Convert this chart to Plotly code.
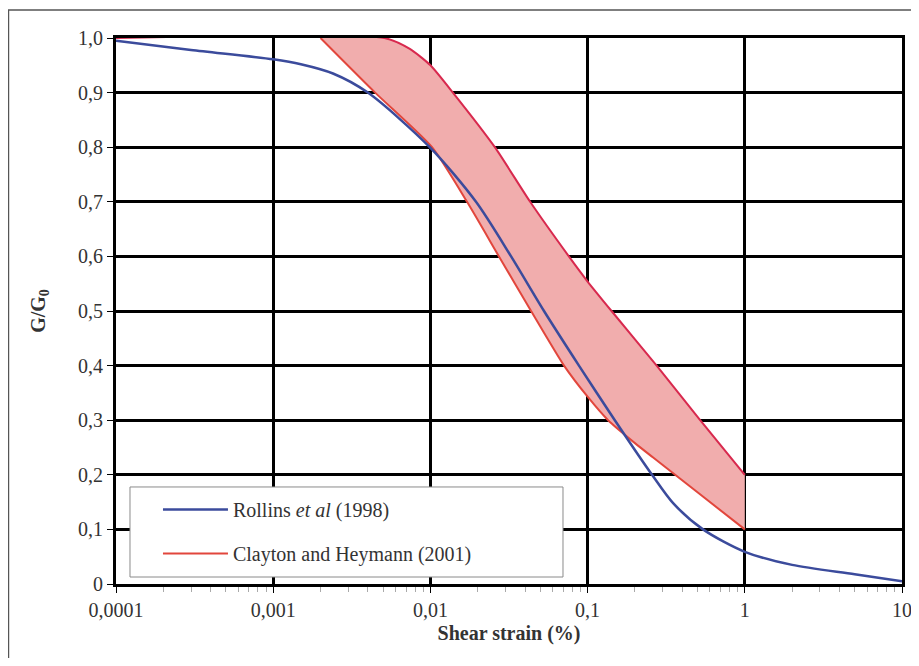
import plotly.graph_objects as go

# ---- data ----
rollins_x = [0.0001, 0.0003, 0.001, 0.0015, 0.0024, 0.004, 0.0099, 0.0195, 0.0326,
             0.0528, 0.0881, 0.149, 0.257, 0.35, 0.542, 1, 2, 5, 10]
rollins_y = [0.995, 0.978, 0.961, 0.952, 0.935, 0.9, 0.8, 0.7, 0.6,
             0.5, 0.4, 0.3, 0.2, 0.148, 0.1, 0.059, 0.035, 0.018, 0.005]

clayton_upper_x = [0.0001, 0.0051, 0.0074, 0.01, 0.0139, 0.0257, 0.0431, 0.076,
                   0.1, 0.142, 0.275, 0.52, 1]
clayton_upper_y = [1.0, 1.0, 0.98, 0.95, 0.9, 0.8, 0.7, 0.6,
                   0.554, 0.5, 0.4, 0.3, 0.2]

clayton_lower_x = [0.002, 0.00445, 0.01024, 0.0171, 0.0273, 0.0437, 0.0708, 0.1,
                   0.135, 0.2, 0.26, 0.5, 1]
clayton_lower_y = [1.0, 0.9, 0.8, 0.7, 0.6, 0.5, 0.4, 0.343,
                   0.3, 0.258, 0.232, 0.168, 0.1]

x_tickvals = [0.0001, 0.001, 0.01, 0.1, 1, 10]
x_ticktext = ["0,0001", "0,001", "0,01", "0,1", "1", "10"]
y_tickvals = [0, 0.1, 0.2, 0.3, 0.4, 0.5, 0.6, 0.7, 0.8, 0.9, 1.0]
y_ticktext = ["0", "0,1", "0,2", "0,3", "0,4", "0,5", "0,6", "0,7", "0,8", "0,9", "1,0"]

name_rollins = "Rollins <i>et al</i> (1998)"
name_clayton = "Clayton and Heymann (2001)"

FONT = "Liberation Serif"
TXT = "#333333"

fig = go.Figure()

# lower bound of Clayton band
fig.add_trace(go.Scatter(
    x=clayton_lower_x, y=clayton_lower_y, mode="lines",
    line=dict(color="#e2463c", width=2, shape="spline", smoothing=0.6),
    name=name_clayton, legendrank=2, legendgroup="b", showlegend=True,
))
# upper bound of Clayton band, filled down to the lower bound
fig.add_trace(go.Scatter(
    x=clayton_upper_x, y=clayton_upper_y, mode="lines",
    line=dict(color="#d8294e", width=2, shape="spline", smoothing=0.6),
    fill="tonexty", fillcolor="#f1adad",
    name=name_clayton + " upper", showlegend=False, hoverinfo="skip",
))
# Rollins curve
fig.add_trace(go.Scatter(
    x=rollins_x, y=rollins_y, mode="lines",
    line=dict(color="#3b4b9c", width=2.5, shape="spline", smoothing=0.8),
    name=name_rollins, legendrank=1, legendgroup="a",
))

# outer frame of the figure
fig.add_shape(type="rect", xref="paper", yref="paper",
              x0=-0.1368, x1=1.08, y0=-0.25, y1=1.0513,
              line=dict(color="#555555", width=1.5), layer="below")
# legend box
fig.add_shape(type="rect", xref="paper", yref="paper",
              x0=0.0178, x1=0.5687, y0=0.0128, y1=0.1777,
              line=dict(color="#8a8a8a", width=1), fillcolor="white", layer="above")

fig.update_layout(
    width=911, height=650,
    margin=dict(l=108, r=17, t=30, b=74),
    paper_bgcolor="white", plot_bgcolor="white",
    font=dict(family=FONT, size=20, color=TXT),
    legend=dict(
        x=0.0534, y=0.172, xanchor="left", yanchor="top",
        bgcolor="rgba(0,0,0,0)", borderwidth=0,
        font=dict(family=FONT, size=20, color=TXT),
        traceorder="grouped", tracegroupgap=15,
        itemwidth=65,
    ),
    xaxis=dict(
        type="log", range=[-4, 1], automargin=False,
        tickmode="array", tickvals=x_tickvals, ticktext=x_ticktext,
        ticklabeloverflow="allow",
        showgrid=True, gridcolor="black", gridwidth=3,
        showline=True, linecolor="black", linewidth=3, mirror=True,
        ticks="outside", ticklen=6, tickcolor="black", tickwidth=1,
        tickfont=dict(family=FONT, size=20, color=TXT),
        minor=dict(ticks="outside", ticklen=5, tickcolor="#aaaaaa", tickwidth=1,
                   dtick="D1", showgrid=False),
        title=dict(text="<b>Shear strain (%)</b>", standoff=6,
                   font=dict(family=FONT, size=20, color=TXT)),
        zeroline=False,
    ),
    yaxis=dict(
        range=[0, 1.0], automargin=False,
        tickmode="array", tickvals=y_tickvals, ticktext=y_ticktext,
        showgrid=True, gridcolor="black", gridwidth=3,
        showline=True, linecolor="black", linewidth=3, mirror=True,
        ticks="outside", ticklen=6, tickcolor="black", tickwidth=1,
        tickfont=dict(family=FONT, size=20, color=TXT),
        title=dict(text="<b>G/G<sub>0</sub></b>", standoff=28,
                   font=dict(family=FONT, size=20, color=TXT)),
        zeroline=False,
    ),
)

fig.write_html("out.html")
